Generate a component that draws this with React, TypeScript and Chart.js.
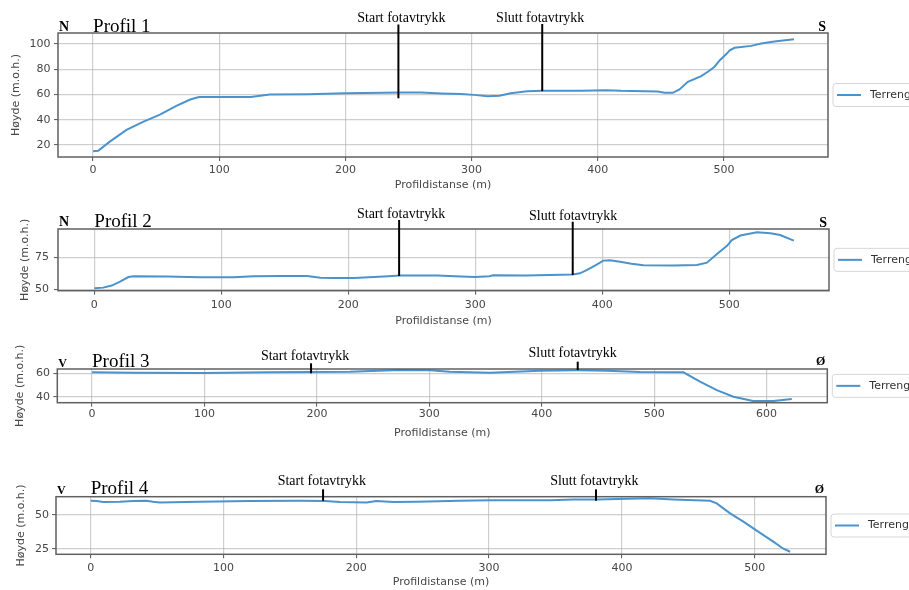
import React, { useEffect, useRef } from 'react';
import { Chart, registerables } from 'chart.js';

Chart.register(...registerables);

// ---------------- DATA ----------------
const MARKER_LABELS = ['Start fotavtrykk', 'Slutt fotavtrykk'];
const LEGEND_LABEL = 'Terrengprofil';
const X_TITLE = 'Profildistanse (m)';
const Y_TITLE = 'Høyde (m.o.h.)';

// Profil 1 (N -> S)
const p1Dist = [0, 4, 13, 26.5, 40, 53, 66, 77, 84, 100, 125, 140, 170, 200, 245, 260, 276, 291.5, 302, 312.7, 322, 331, 344, 356.6, 386.8, 406.6, 418.5, 447.6, 452.9, 459.5, 464.8, 471.4, 482, 487.3, 492.6, 496.6, 501.9, 504.6, 508.5, 521.7, 529.6, 540, 555.5];
const p1Height = [15, 15.5, 22.5, 32, 38.5, 44, 51, 56, 58, 58, 58, 60, 60.2, 61, 61.5, 61.5, 60.8, 60.3, 59.7, 58.7, 59, 61, 62.6, 62.9, 62.9, 63.4, 62.9, 62.4, 61.3, 61.3, 64, 70, 74.5, 78, 82, 87, 92, 95, 97, 98.5, 100.4, 102, 103.8];
const p1XTicks = [0, 100, 200, 300, 400, 500];
const p1YTicks = [20, 40, 60, 80, 100];
const p1MarkerDist = [242, 356];
const p1MarkerHeight = [57, 62.7];

// Profil 2 (N -> S)
const p2Dist = [0, 7, 13.7, 20.3, 26.8, 30.8, 57, 83.4, 109.7, 125.5, 149, 167.6, 178, 188.7, 204.5, 228, 241, 270, 288.7, 300, 311, 314, 340, 358.7, 376.6, 382.4, 387.6, 394.2, 400.8, 406, 413.9, 423, 432.4, 456, 474.5, 482.4, 490.3, 498.2, 502, 508.7, 521.8, 532.4, 540, 550.8];
const p2Height = [50.8, 51.3, 52.9, 56, 59.6, 60.2, 59.9, 59.4, 59.4, 60.2, 60.4, 60.4, 59.1, 58.9, 58.9, 59.9, 60.7, 60.7, 59.9, 59.6, 60.2, 60.9, 60.7, 61.2, 61.5, 62.5, 65, 68.5, 72.4, 72.7, 71.6, 70, 68.8, 68.5, 69, 70.8, 77.6, 83.9, 88.5, 92, 94.5, 93.8, 92.4, 88];
const p2XTicks = [0, 100, 200, 300, 400, 500];
const p2YTicks = [50, 75];
const p2MarkerDist = [240, 376.7];
const p2MarkerHeight = [60.4, 61.2];

// Profil 3 (V -> Ø)
const p3Dist = [0, 36.8, 99.6, 155, 194, 229.5, 274, 300.6, 318, 354, 398.5, 432, 457.8, 487.5, 526, 540.8, 555.7, 570.5, 588, 606, 622.4];
const p3Height = [60.9, 60.6, 60.3, 60.9, 61.1, 61.4, 62.9, 62.6, 61.4, 60.6, 62.3, 62.6, 62.3, 61.1, 60.9, 52.9, 45.7, 40, 36.3, 36.3, 38];
const p3XTicks = [0, 100, 200, 300, 400, 500, 600];
const p3YTicks = [40, 60];
const p3MarkerDist = [194.8, 432];
const p3MarkerHeight = [60, 62.8];

// Profil 4 (V -> Ø)
const p4Dist = [0, 4.5, 9.5, 22, 32, 42, 47, 52, 82, 120, 157.6, 176.5, 187.7, 207.8, 215, 228, 245.5, 278, 300.8, 346, 363.5, 381, 421, 438.8, 466.4, 471.4, 481.5, 491.5, 501.5, 514, 521.6, 526.7];
const p4Height = [60.5, 60.3, 59.6, 59.8, 60.3, 60.5, 59.8, 59.3, 59.8, 60.3, 60.5, 60.3, 59.6, 59.3, 60.3, 59.6, 59.8, 60.5, 60.8, 60.8, 61.5, 61.5, 62.3, 61.5, 60.5, 58.6, 51.2, 45.1, 38.5, 30.4, 25.2, 23];
const p4XTicks = [0, 100, 200, 300, 400, 500];
const p4YTicks = [25, 50];
const p4MarkerDist = [175, 380.5];
const p4MarkerHeight = [60.5, 60.5];

// ---------------- STYLE ----------------
const WIDTH = 909;
const SANS = '"DejaVu Sans", sans-serif';
const SERIF = '"Liberation Serif", "Times New Roman", serif';
const LINE_COLOR = '#4b93cc';
const TEXT_COLOR = '#474747';
const GRID_COLOR = 'rgba(175,175,175,0.6)';
const FRAME_COLOR = '#606060';

type Panel = {
  title: string;
  dirs: [string, string];
  dirSize: number;
  dist: number[];
  height: number[];
  xLim: [number, number];
  yLim: [number, number];
  xTicks: number[];
  yTicks: number[];
  markerDist: number[];
  markerHeight: number[];
  // layout (pixels)
  canvasTop: number;
  canvasH: number;
  plotLeft: number;
  plotRight: number;
  plotTop: number;
  plotBottom: number;
  xTickPad: number;
  yTickPad: number;
  yTitlePad: number;
  xTitlePad: number;
  headDy: [number, number, number];
  markerDx: number[];
  markerTextDy: number[];
  markerLineDy: number[];
};

const PANELS: Panel[] = [
  {
    title: 'Profil 1', dirs: ['N', 'S'], dirSize: 14,
    dist: p1Dist, height: p1Height, xLim: [-27.8, 582.5], yLim: [10.5, 108.7],
    xTicks: p1XTicks, yTicks: p1YTicks, markerDist: p1MarkerDist, markerHeight: p1MarkerHeight,
    canvasTop: 0, canvasH: 195, plotLeft: 58, plotRight: 828, plotTop: 33, plotBottom: 157,
    xTickPad: 2.4, yTickPad: 3.5, yTitlePad: 9.7, xTitlePad: 2.9,
    headDy: [2, 1.3, 2], markerDx: [3, -2], markerTextDy: [11, 11], markerLineDy: [8.5, 9],
  },
  {
    title: 'Profil 2', dirs: ['N', 'S'], dirSize: 14,
    dist: p2Dist, height: p2Height, xLim: [-28.6, 578.5], yLim: [48.9, 97.1],
    xTicks: p2XTicks, yTicks: p2YTicks, markerDist: p2MarkerDist, markerHeight: p2MarkerHeight,
    canvasTop: 195, canvasH: 135, plotLeft: 58, plotRight: 829, plotTop: 34, plotBottom: 95.7,
    xTickPad: 4.2, yTickPad: 5, yTitlePad: 18.9, xTitlePad: 2.4,
    headDy: [3.3, 2, 1.7], markerDx: [2, 0.5], markerTextDy: [11, 9], markerLineDy: [9, 7.3],
  },
  {
    title: 'Profil 3', dirs: ['V', 'Ø'], dirSize: 12,
    dist: p3Dist, height: p3Height, xLim: [-30.9, 654], yLim: [34.9, 63.7],
    xTicks: p3XTicks, yTicks: p3YTicks, markerDist: p3MarkerDist, markerHeight: p3MarkerHeight,
    canvasTop: 335, canvasH: 110, plotLeft: 57.3, plotRight: 827.3, plotTop: 34, plotBottom: 67.7,
    xTickPad: 1.2, yTickPad: 3.3, yTitlePad: 13.7, xTitlePad: 5.1,
    headDy: [1.7, 2.3, 4], markerDx: [-6, -5], markerTextDy: [9, 12.3], markerLineDy: [5.7, 7.3],
  },
  {
    title: 'Profil 4', dirs: ['V', 'Ø'], dirSize: 12,
    dist: p4Dist, height: p4Height, xLim: [-26.1, 553.7], yLim: [21.1, 63.5],
    xTicks: p4XTicks, yTicks: p4YTicks, markerDist: p4MarkerDist, markerHeight: p4MarkerHeight,
    canvasTop: 450, canvasH: 140, plotLeft: 56, plotRight: 826, plotTop: 46.7, plotBottom: 104.3,
    xTickPad: 3.1, yTickPad: 3, yTitlePad: 14.6, xTitlePad: 1.4,
    headDy: [2.4, 2.4, 3.4], markerDx: [-1.3, -1.7], markerTextDy: [11.7, 11.7], markerLineDy: [7.4, 7.4],
  },
];

function makeOverlay(p: Panel) {
  return {
    id: 'profileOverlay',
    afterDatasetsDraw(chart: any) {
      const { ctx, chartArea: a, scales } = chart;
      const xs = scales.x;
      const ys = scales.y;
      ctx.save();
      // frame (spines)
      ctx.strokeStyle = FRAME_COLOR;
      ctx.lineWidth = 1.5;
      ctx.strokeRect(a.left, a.top, a.right - a.left, a.bottom - a.top);

      // markers
      ctx.strokeStyle = '#000';
      ctx.fillStyle = '#000';
      ctx.lineWidth = 2;
      ctx.font = `14px ${SERIF}`;
      ctx.textAlign = 'center';
      ctx.textBaseline = 'alphabetic';
      p.markerDist.forEach((d, i) => {
        const px = xs.getPixelForValue(d);
        const pb = ys.getPixelForValue(p.markerHeight[i]);
        ctx.beginPath();
        ctx.moveTo(px, a.top - p.markerLineDy[i]);
        ctx.lineTo(px, pb);
        ctx.stroke();
        ctx.fillText(MARKER_LABELS[i], px + p.markerDx[i], a.top - p.markerTextDy[i]);
      });

      // direction letters and title
      ctx.font = `bold ${p.dirSize}px ${SERIF}`;
      ctx.textAlign = 'left';
      ctx.fillText(p.dirs[0], a.left + 1, a.top - p.headDy[0]);
      ctx.textAlign = 'right';
      ctx.fillText(p.dirs[1], a.right - 2, a.top - p.headDy[2]);
      ctx.font = `19px ${SERIF}`;
      ctx.textAlign = 'left';
      ctx.fillText(p.title, xs.getPixelForValue(0), a.top - p.headDy[1]);

      // legend (matplotlib style, outside right)
      const cy = (a.top + a.bottom) / 2;
      const bx = a.right + 5;
      const bh = 23;
      const bw = 120;
      const r = 3;
      ctx.beginPath();
      ctx.moveTo(bx + r, cy - bh / 2);
      ctx.lineTo(bx + bw - r, cy - bh / 2);
      ctx.arcTo(bx + bw, cy - bh / 2, bx + bw, cy - bh / 2 + r, r);
      ctx.lineTo(bx + bw, cy + bh / 2 - r);
      ctx.arcTo(bx + bw, cy + bh / 2, bx + bw - r, cy + bh / 2, r);
      ctx.lineTo(bx + r, cy + bh / 2);
      ctx.arcTo(bx, cy + bh / 2, bx, cy + bh / 2 - r, r);
      ctx.lineTo(bx, cy - bh / 2 + r);
      ctx.arcTo(bx, cy - bh / 2, bx + r, cy - bh / 2, r);
      ctx.closePath();
      ctx.fillStyle = 'rgba(255,255,255,0.8)';
      ctx.fill();
      ctx.strokeStyle = '#d6d6d6';
      ctx.lineWidth = 1;
      ctx.stroke();
      ctx.strokeStyle = LINE_COLOR;
      ctx.lineWidth = 2;
      ctx.beginPath();
      ctx.moveTo(bx + 4, cy);
      ctx.lineTo(bx + 28, cy);
      ctx.stroke();
      ctx.fillStyle = '#333';
      ctx.font = `11px ${SANS}`;
      ctx.textAlign = 'left';
      ctx.textBaseline = 'middle';
      ctx.fillText(chart.data.datasets[0].label, bx + 37, cy);
      ctx.restore();
    },
  };
}

function ProfileChart({ p }: { p: Panel }) {
  const ref = useRef<HTMLCanvasElement>(null);
  useEffect(() => {
    if (!ref.current) return;
    const tickFont = { family: SANS, size: 11 };
    const chart = new Chart(ref.current, {
      type: 'line',
      data: {
        datasets: [
          {
            label: LEGEND_LABEL,
            data: p.dist.map((d, i) => ({ x: d, y: p.height[i] })),
            borderColor: LINE_COLOR,
            backgroundColor: LINE_COLOR,
            borderWidth: 2,
            pointRadius: 0,
            tension: 0,
            fill: false,
          },
        ],
      },
      options: {
        responsive: false,
        animation: false,
        events: [],
        layout: { padding: { left: 0, right: WIDTH - p.plotRight, top: p.plotTop, bottom: 0 } },
        plugins: { legend: { display: false }, tooltip: { enabled: false } },
        scales: {
          x: {
            type: 'linear',
            min: p.xLim[0],
            max: p.xLim[1],
            afterFit: (s: any) => { s.height = p.canvasH - p.plotBottom; },
            afterBuildTicks: (s: any) => { s.ticks = p.xTicks.map((v) => ({ value: v })); },
            border: { display: false },
            grid: { color: GRID_COLOR, lineWidth: 1.2, tickLength: 4, tickColor: '#555', tickWidth: 1 },
            ticks: { font: tickFont, color: TEXT_COLOR, padding: p.xTickPad, maxRotation: 0, autoSkip: false },
            title: { display: true, text: X_TITLE, font: tickFont, color: TEXT_COLOR, padding: { top: 0, bottom: p.xTitlePad } },
          },
          y: {
            type: 'linear',
            min: p.yLim[0],
            max: p.yLim[1],
            afterFit: (s: any) => { s.width = p.plotLeft; },
            afterBuildTicks: (s: any) => { s.ticks = p.yTicks.map((v) => ({ value: v })); },
            border: { display: false },
            grid: { color: GRID_COLOR, lineWidth: 1.2, tickLength: 4, tickColor: '#555', tickWidth: 1 },
            ticks: { font: tickFont, color: TEXT_COLOR, padding: p.yTickPad, autoSkip: false },
            title: { display: true, text: Y_TITLE, font: tickFont, color: TEXT_COLOR, padding: { top: p.yTitlePad, bottom: 0 } },
          },
        },
      },
      plugins: [makeOverlay(p)],
    } as any);
    return () => chart.destroy();
  }, [p]);
  return (
    <canvas
      ref={ref}
      width={WIDTH}
      height={p.canvasH}
      style={{ position: 'absolute', left: 0, top: p.canvasTop, display: 'block' }}
    />
  );
}

export default function App() {
  return (
    <div
      style={{
        position: 'absolute',
        left: 0,
        top: 0,
        width: WIDTH,
        height: 590,
        overflow: 'hidden',
        background: '#fff',
      }}
    >
      {PANELS.map((p) => (
        <ProfileChart key={p.title} p={p} />
      ))}
    </div>
  );
}
